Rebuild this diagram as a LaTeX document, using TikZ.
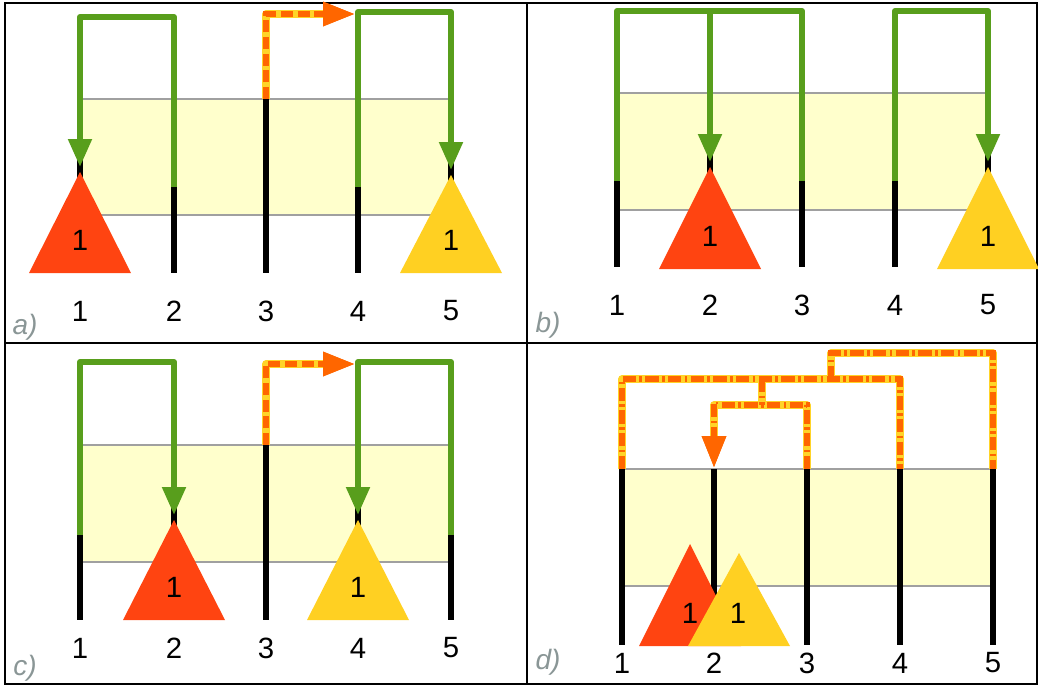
\documentclass[tikz,border=0pt]{standalone}
\usepackage{fontspec}
\setmainfont{Liberation Sans}
\usetikzlibrary{arrows.meta}
\definecolor{grn}{RGB}{88,158,28}
\definecolor{tred}{RGB}{255,68,17}
\definecolor{tyel}{RGB}{255,208,34}
\definecolor{dorange}{RGB}{255,102,0}
\definecolor{dyel}{RGB}{255,212,40}
\definecolor{bandfill}{RGB}{255,255,204}
\definecolor{bandgray}{RGB}{160,160,160}
\definecolor{labgray}{RGB}{138,150,150}
\tikzset{
  blk/.style={line width=4.5pt, black},
  gline/.style={line width=4.5pt, grn, line join=round},
  garrow/.style={gline, -{Triangle[length=21pt,width=17pt]}},
  ybase/.style={line width=5.5pt, dyel, line join=round},
  odash/.style={line width=4.5pt, dorange, dash pattern=on 9pt off 3.5pt},
  odashdot/.style={line width=4.5pt, dorange, dash pattern=on 10pt off 2.5pt on 2pt off 2.5pt},
  otip/.style={-{Triangle[length=24pt,width=17pt,color=dorange]}},
  bandedge/.style={bandgray, line width=1pt},
  num/.style={font=\fontsize{22}{26}\selectfont, inner sep=0pt},
  plabel/.style={font=\fontsize{21}{25}\selectfont\itshape, text=labgray, inner sep=0pt},
  frame/.style={line width=1.5pt, black}
}
\begin{document}
\begin{tikzpicture}[x=0.75pt,y=-0.75pt]
\useasboundingbox (0,0) rectangle (1038,686);
\clip (0,0) rectangle (1038,686);
% frame
\draw[frame] (5,2.5) rectangle (1037,683.5);
\draw[frame] (527,2.5) -- (527,683.5);
\draw[frame] (5,343) -- (1037,343);

% ================= panel a =================
\fill[bandfill] (80,99) rectangle (451,215);
\draw[bandedge] (80,99) -- (451,99) (80,215) -- (451,215);
\foreach \x in {80,174,266,358,451} \draw[blk] (\x,99) -- (\x,273);
\draw[garrow] (174,187) -- (174,17) -- (80,17) -- (80,167);
\draw[garrow] (358,187) -- (358,12) -- (451,12) -- (451,170);
\draw[ybase,otip] (266,99) -- (266,14) -- (355,14);
\draw[odash,otip] (266,99) -- (266,14) -- (355,14);
\fill[tred] (80,172) -- (131,273) -- (29,273) -- cycle;
\fill[tyel] (451,175) -- (502,273) -- (400,273) -- cycle;
\node[num] (a1n) at (80,240) {1};
\node[num] (a5n) at (451,240) {1};
\foreach \x/\t in {80/1,174/2,266/3,358/4,451/5} \node[num] (al\t) at (\x,311) {\t};
\node[plabel] (la) at (25,327) {a)};

% ================= panel b =================
\fill[bandfill] (617,93) rectangle (988,210);
\draw[bandedge] (617,93) -- (988,93) (617,210) -- (988,210);
\foreach \x in {617,710,802,895,988} \draw[blk] (\x,93) -- (\x,267);
\draw[gline] (617,181) -- (617,11) -- (802,11) -- (802,181);
\draw[garrow] (710,11) -- (710,162);
\draw[garrow] (895,181) -- (895,11) -- (988,11) -- (988,162);
\fill[tred] (710,167) -- (761,269) -- (659,269) -- cycle;
\fill[tyel] (988,167) -- (1039,269) -- (937,269) -- cycle;
\node[num] (b2n) at (710,236) {1};
\node[num] (b5n) at (988,236) {1};
\foreach \x/\t in {617/1,710/2,802/3,895/4,988/5} \node[num] (bl\t) at (\x,305) {\t};
\node[plabel] (lb) at (548,325) {b)};

% ================= panel c =================
\fill[bandfill] (80,445) rectangle (451,562);
\draw[bandedge] (80,445) -- (451,445) (80,562) -- (451,562);
\foreach \x in {80,174,266,358,451} \draw[blk] (\x,445) -- (\x,620);
\draw[garrow] (80,535) -- (80,362) -- (174,362) -- (174,515);
\draw[garrow] (451,535) -- (451,362) -- (358,362) -- (358,515);
\draw[ybase,otip] (266,445) -- (266,364) -- (355,364);
\draw[odash,otip] (266,445) -- (266,364) -- (355,364);
\fill[tred] (174,520) -- (225,620) -- (123,620) -- cycle;
\fill[tyel] (358,520) -- (409,620) -- (307,620) -- cycle;
\node[num] (c2n) at (174,587) {1};
\node[num] (c4n) at (358,587) {1};
\foreach \x/\t in {80/1,174/2,266/3,358/4,451/5} \node[num] (cl\t) at (\x,648) {\t};
\node[plabel] (lc) at (25,668) {c)};

% ================= panel d =================
\fill[bandfill] (622,469) rectangle (993,586);
\draw[bandedge] (622,469) -- (993,469) (622,586) -- (993,586);
\foreach \x in {622,714,807,900,993} \draw[blk] (\x,469) -- (\x,645);
\foreach \s in {ybase,odashdot}{
  \draw[\s] (622,469) -- (622,379) -- (900,379) -- (900,469);
  \draw[\s] (762,379) -- (762,405);
  \draw[\s] (831,379) -- (831,353) -- (993,353) -- (993,469);
  \draw[\s] (807,469) -- (807,405) -- (714,405) -- (714,420);
}
\draw[ybase,otip] (714,404) -- (714,468);
\draw[odashdot,otip] (714,404) -- (714,468);
\fill[tred] (690,544) -- (741,646) -- (639,646) -- cycle;
\fill[tyel] (739,553) -- (790,646) -- (688,646) -- cycle;
\node[num] (d1n) at (690,613) {1};
\node[num] (d2n) at (738,613) {1};
\foreach \x/\t in {622/1,714/2,807/3,900/4,993/5} \node[num] (dl\t) at (\x,663) {\t};
\node[plabel] (ld) at (548,662) {d)};
\end{tikzpicture}
\end{document}
